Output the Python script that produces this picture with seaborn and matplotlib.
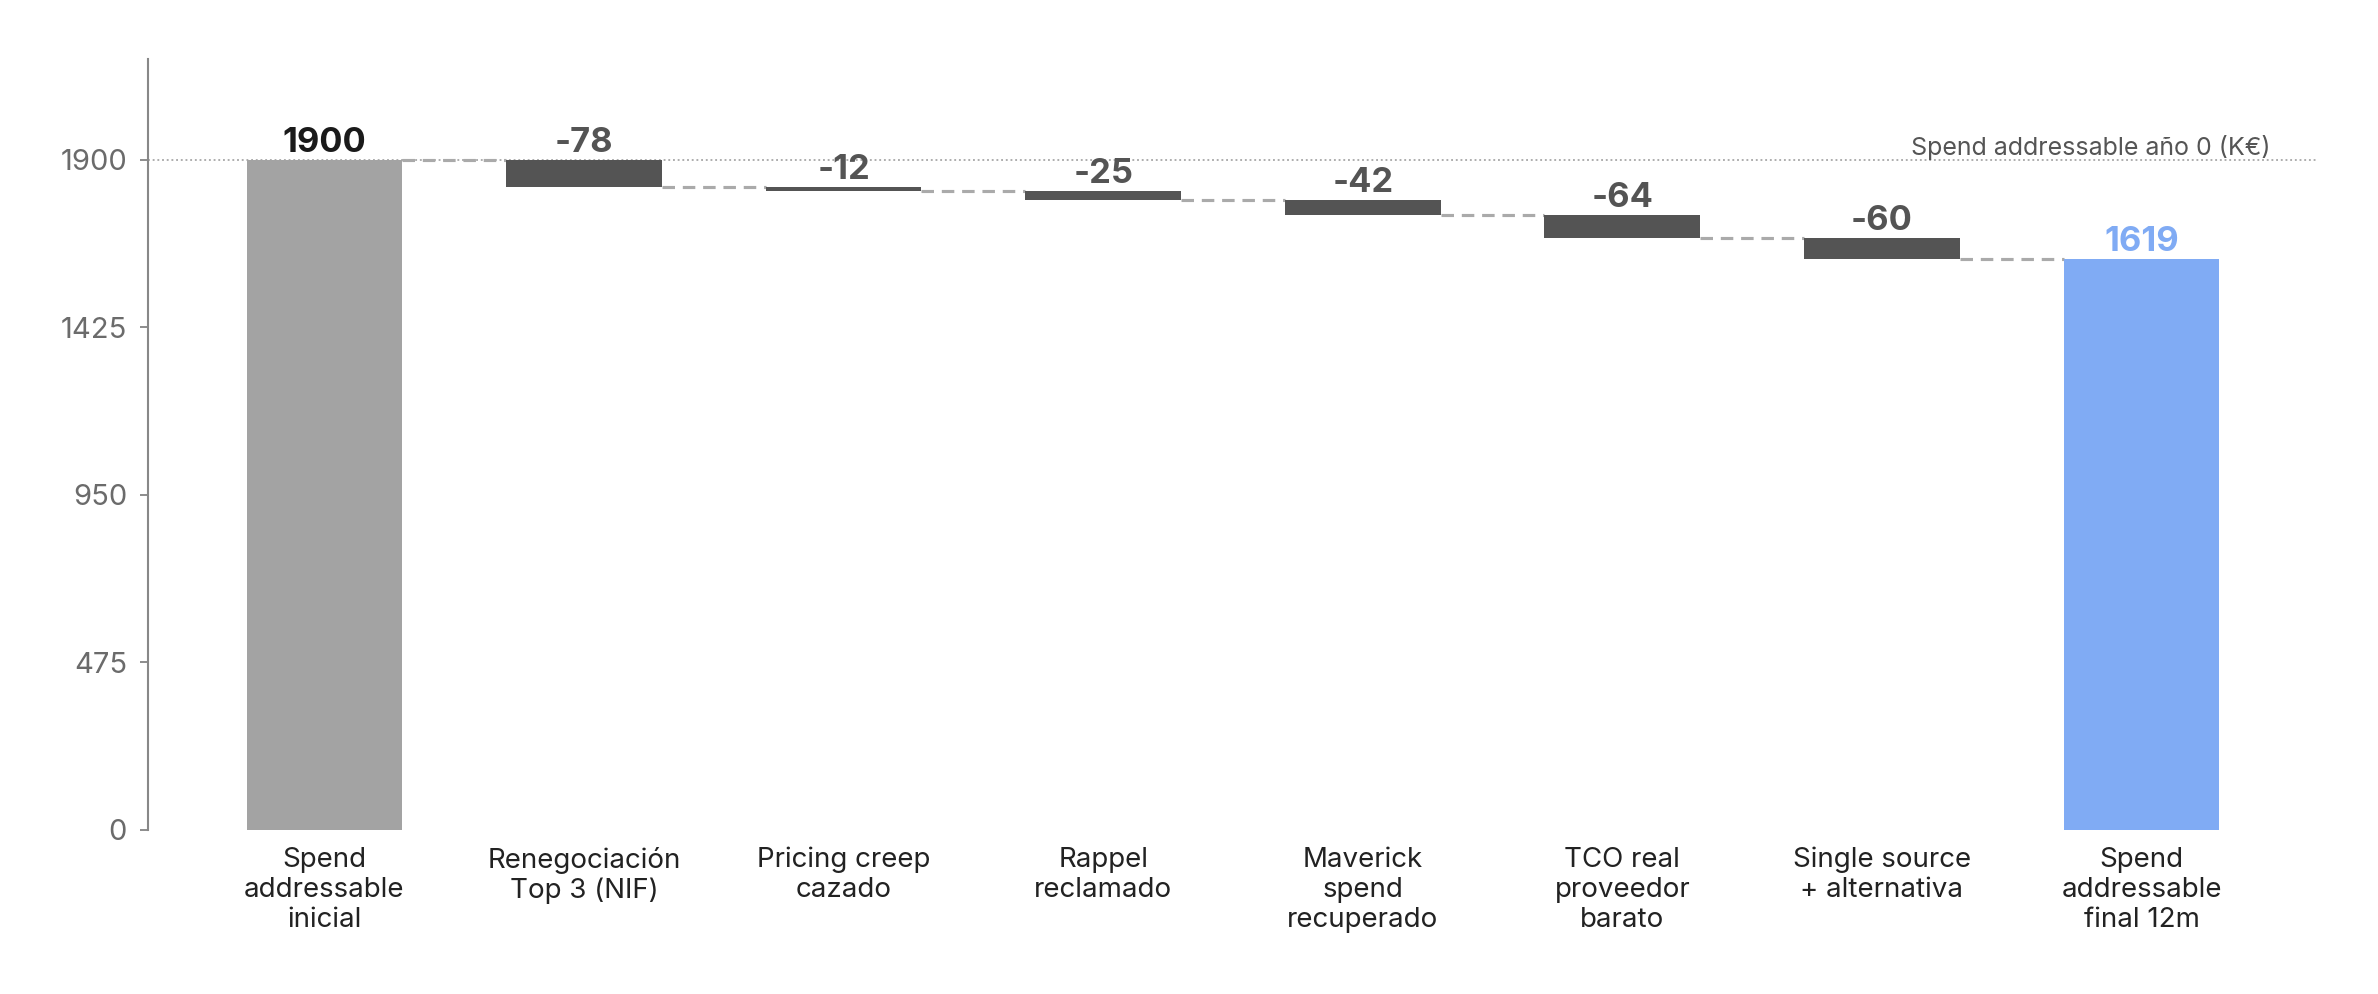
import numpy as np
import pandas as pd
import matplotlib
matplotlib.use("Agg")
import matplotlib.pyplot as plt
import seaborn as sns

# ── Data ──────────────────────────────────────
categories = [
    "Spend\naddressable\ninicial",
    "Renegociación\nTop 3 (NIF)",
    "Pricing creep\ncazado",
    "Rappel\nreclamado",
    "Maverick\nspend\nrecuperado",
    "TCO real\nproveedor\nbarato",
    "Single source\n+ alternativa",
    "Spend\naddressable\nfinal 12m",
]
start_value = 1900
deltas = [-78, -12, -25, -42, -64, -60]
final_value = 1619
ref_label = "Spend addressable año 0 (K€)"

# ── Colours ───────────────────────────────────
C_START = "#a3a3a3"
C_DELTA = "#545454"
C_FINAL = "#80abf4"
C_CONN  = "#aaaaaa"

# ── Waterfall geometry ────────────────────────
levels = np.concatenate([[start_value], start_value + np.cumsum(deltas)])
heights = [start_value] + [abs(d) for d in deltas] + [final_value]
bottoms = [0] + list(levels[1:]) + [0]
tops = [b + h for b, h in zip(bottoms, heights)]
labels = [str(start_value)] + [str(d) for d in deltas] + [str(final_value)]
colors = [C_START] + [C_DELTA] * len(deltas) + [C_FINAL]
label_colors = ["#1a1a1a"] + [C_DELTA] * len(deltas) + [C_FINAL]

df = pd.DataFrame({"cat": categories, "height": heights, "bottom": bottoms})

sns.set_theme(style="white")
plt.rcParams["font.family"] = ["Inter", "DejaVu Sans"]

fig = plt.figure(figsize=(2378 / 150, 994 / 150), dpi=150)
ax = fig.add_axes([0.0622, 0.165, 0.9126, 0.7756])

sns.barplot(data=df, x="cat", y="height", bottom=df["bottom"].values,
            color=C_DELTA, width=0.6, ax=ax, zorder=2)
for patch, col in zip(ax.patches, colors):
    patch.set_facecolor(col)
    patch.set_edgecolor("none")

# connectors
for i in range(len(categories) - 1):
    lvl = levels[i] if i < len(levels) else final_value
    ax.plot([i + 0.3, i + 0.7], [lvl, lvl], color=C_CONN, lw=1.5,
            ls=(0, (4, 2.5)), zorder=1)

# reference line at start level
ax.axhline(start_value, color=C_CONN, lw=0.9, ls=(0, (1, 1.5)), zorder=0)
ax.text(0.978, start_value, ref_label, transform=ax.get_yaxis_transform(),
        ha="right", va="bottom", fontsize=12, color="#555555")

# value labels
for i, (t, lab, lc) in enumerate(zip(tops, labels, label_colors)):
    ax.annotate(lab, (i, t), xytext=(0, 0.5), textcoords="offset points",
                ha="center", va="bottom", fontsize=16.5, fontweight="bold",
                color=lc, zorder=3)

ax.set_xlim(-0.68, len(categories) - 1 + 0.68)
ax.set_ylim(0, start_value * 1.15)
ax.set_yticks(np.linspace(0, start_value, 5))
ax.set_xlabel("")
ax.set_ylabel("")

sns.despine(ax=ax, bottom=True)
ax.spines["left"].set_color("#888888")
ax.spines["left"].set_linewidth(1.0)
ax.tick_params(axis="y", left=True, length=4, width=0.9, color="#888888",
               labelsize=14, labelcolor="#6b6b6b", pad=6)
ax.tick_params(axis="x", bottom=False, length=0, labelsize=13.3,
               labelcolor="#222222", pad=8)

fig.savefig("out.png", dpi=150)
